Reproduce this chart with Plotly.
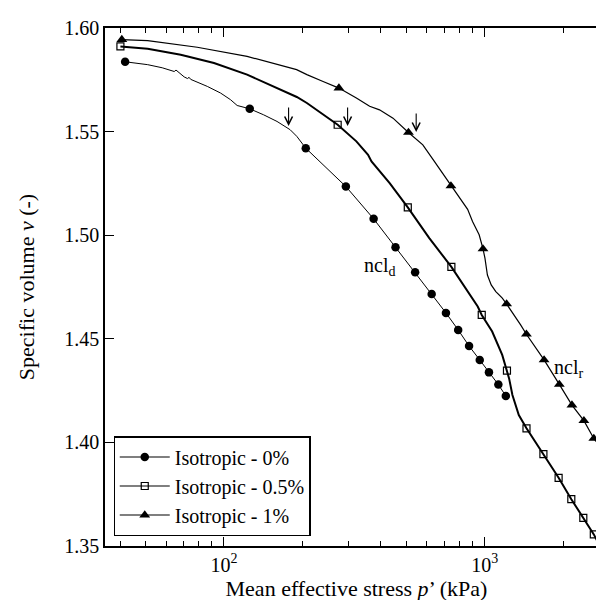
import math
import plotly.graph_objects as go

# ---- data ----
# Isotropic - 0% : continuous curve and marker points
line0_p = [41.8, 51.0, 58.0, 62.6, 64.5, 65.5, 69.0, 70.4, 72.5, 73.5, 74.6, 86.4, 97.1, 106, 112.4, 125.6,
           142, 159.8, 179.5, 190.3, 206, 293.5, 375, 455, 541, 626, 710, 791, 871, 957, 1038, 1128, 1205]
line0_v = [1.5837, 1.5823, 1.5808, 1.5797, 1.5790, 1.5797, 1.5770, 1.5764, 1.5756, 1.5762, 1.5752, 1.5718, 1.5686,
           1.5654, 1.5626, 1.5610, 1.5581, 1.5549, 1.5509, 1.5477, 1.5420, 1.5235, 1.5079, 1.4942, 1.4821, 1.4716,
           1.4625, 1.4543, 1.4465, 1.4398, 1.4338, 1.4279, 1.4224]
mark0_p = [41.8, 125.6, 206, 293.5, 375, 455, 541, 626, 710, 791, 871, 957, 1038, 1128, 1205]
mark0_v = [1.5837, 1.5610, 1.5420, 1.5235, 1.5079, 1.4942, 1.4821, 1.4716, 1.4625, 1.4543, 1.4465, 1.4398,
           1.4338, 1.4279, 1.4224]

# Isotropic - 0.5%
line05_p = [40.1, 51, 68.3, 91.6, 122.7, 155, 190.3, 208, 240.4, 273, 322, 357, 368, 432, 507, 613, 745, 844,
            940, 974, 1068, 1167, 1217, 1240, 1277, 1351, 1446, 1679, 1920, 2148, 2388, 2620, 2800]
line05_v = [1.5911, 1.5900, 1.5871, 1.5831, 1.5775, 1.5718, 1.5667, 1.5638, 1.5581, 1.5533, 1.5453, 1.5388,
            1.5356, 1.5251, 1.5134, 1.4986, 1.4847, 1.4744, 1.4656, 1.4615, 1.4535, 1.4422, 1.4346, 1.4309,
            1.4229, 1.4132, 1.4068, 1.3943, 1.3829, 1.3726, 1.3636, 1.3556, 1.3485]
mark05_p = [40.1, 273, 507, 745, 974, 1217, 1446, 1679, 1920, 2148, 2388, 2620]
mark05_v = [1.5911, 1.5533, 1.5134, 1.4847, 1.4615, 1.4346, 1.4068, 1.3943, 1.3829, 1.3726, 1.3636, 1.3556]

# Isotropic - 1%
line1_p = [40.6, 51, 79, 122.7, 190, 208, 240, 276, 322, 362, 395, 445, 510, 579, 641, 742, 800, 860, 898,
           952, 985, 1002, 1024, 1059, 1103, 1168, 1213, 1271, 1373, 1445, 1689, 1932, 2160, 2400, 2620,
           2875, 3050]
line1_v = [1.5944, 1.5939, 1.5907, 1.5863, 1.5799, 1.5775, 1.5742, 1.5710, 1.5662, 1.5622, 1.5605, 1.5565,
           1.5496, 1.5436, 1.5356, 1.5238, 1.5180, 1.5125, 1.5066, 1.5002, 1.4934, 1.4889, 1.4808, 1.4760,
           1.4728, 1.4696, 1.4668, 1.4631, 1.4567, 1.4522, 1.4398, 1.4280, 1.4180, 1.4105, 1.4019, 1.3952,
           1.3910]
mark1_p = [40.6, 276, 510, 742, 985, 1213, 1445, 1689, 1932, 2160, 2400, 2620, 2875]
mark1_v = [1.5944, 1.5710, 1.5496, 1.5238, 1.4934, 1.4668, 1.4522, 1.4398, 1.4280, 1.4180, 1.4105, 1.4019,
           1.3952]

series_names = ["Isotropic - 0%", "Isotropic - 0.5%", "Isotropic - 1%"]

# arrows (yield points) : x and tip y
arrow_p = [177, 298, 546]
arrow_v = [1.5527, 1.5527, 1.5498]

# curve labels
label_text = ["ncl<sub>d</sub>", "ncl<sub>r</sub>"]
label_p = [396, 2095]
label_v = [1.4849, 1.4357]

y_ticks = [1.35, 1.40, 1.45, 1.50, 1.55, 1.60]
x_major = [100, 1000]
x_major_text = ["10<sup>2</sup>", "10<sup>3</sup>"]
x_minor = [40, 50, 60, 70, 80, 90, 200, 300, 400, 500, 600, 700, 800, 900, 2000, 3000]

FONT = "Liberation Serif, Times New Roman, DejaVu Serif, serif"

fig = go.Figure()

specs = [
    (line0_p, line0_v, mark0_p, mark0_v, dict(symbol="circle", size=8.5, color="black"), 1.0),
    (line05_p, line05_v, mark05_p, mark05_v,
     dict(symbol="square-open", size=7, color="black", line=dict(width=1.2, color="black")), 2.0),
    (line1_p, line1_v, mark1_p, mark1_v, dict(symbol="triangle-up", size=9.5, color="black"), 1.2),
]

for name, (lp, lv, mp, mv, mk, lw) in zip(series_names, specs):
    fig.add_trace(go.Scatter(x=lp, y=lv, mode="lines", line=dict(color="black", width=lw),
                             showlegend=False, hoverinfo="skip"))
    fig.add_trace(go.Scatter(x=mp, y=mv, mode="markers", marker=mk, showlegend=False))
    fig.add_trace(go.Scatter(x=[None], y=[None], mode="lines+markers", name=name,
                             line=dict(color="black", width=1.2), marker=mk))

# annotation positions on a log axis are given in log10 units
for xp, yv in zip(arrow_p, arrow_v):
    fig.add_annotation(x=math.log10(xp), y=yv, xref="x", yref="y", text="", showarrow=True,
                       ax=0, ay=-20, arrowhead=5, arrowsize=1.4, arrowwidth=1.1, arrowcolor="black")

for t, xp, yv in zip(label_text, label_p, label_v):
    fig.add_annotation(x=math.log10(xp), y=yv, xref="x", yref="y", text=t, showarrow=False,
                       font=dict(family=FONT, size=20, color="black"))

axis_common = dict(showline=True, linecolor="black", linewidth=1.5, mirror="ticks",
                   ticks="inside", tickcolor="black", tickwidth=1.2, showgrid=False, zeroline=False)

fig.update_xaxes(type="log", range=[1.544, 3.4727], tickmode="array", tickvals=x_major,
                 ticktext=x_major_text, ticklen=9,
                 minor=dict(tickmode="array", tickvals=x_minor, ticks="inside", ticklen=5,
                            tickcolor="black", tickwidth=1.0, showgrid=False),
                 title=dict(text="Mean effective stress <i>p</i>’ (kPa)",
                            font=dict(family=FONT, size=22, color="black"), standoff=2),
                 tickfont=dict(family=FONT, size=20, color="black"), **axis_common)

fig.update_yaxes(range=[1.35, 1.60], tickmode="array", tickvals=y_ticks, tickformat=".2f", ticklen=9,
                 title=dict(text="Specific volume <i>v</i> (-)",
                            font=dict(family=FONT, size=22, color="black"), standoff=24),
                 tickfont=dict(family=FONT, size=20, color="black"), **axis_common)

fig.update_layout(
    width=604, height=600,
    margin=dict(l=97, r=2, t=20, b=62),
    paper_bgcolor="white", plot_bgcolor="white",
    font=dict(family=FONT, color="black"),
    legend=dict(x=0.017, y=0.0187, xanchor="left", yanchor="bottom",
                bordercolor="black", borderwidth=1.2, bgcolor="white",
                font=dict(family=FONT, size=20, color="black"), itemwidth=50,
                tracegroupgap=0),
)

fig.write_html("out.html")
